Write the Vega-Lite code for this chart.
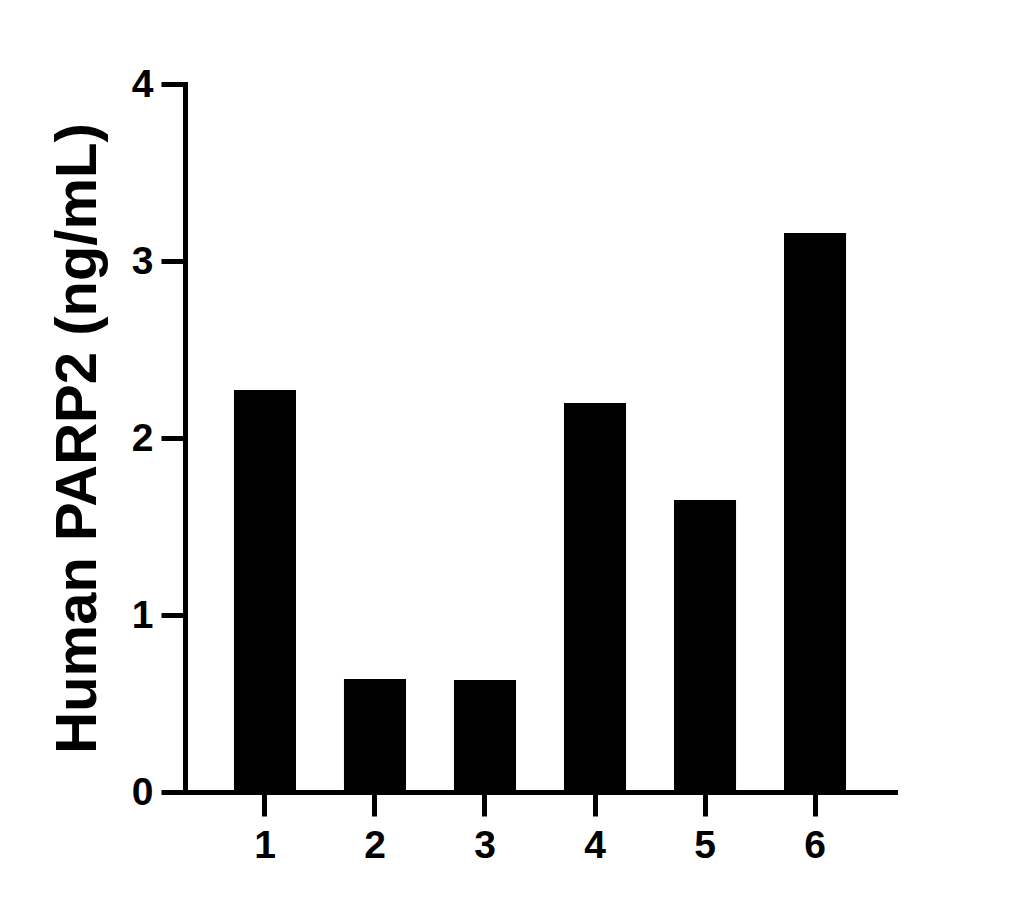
{
  "$schema": "https://vega.github.io/schema/vega-lite/v6.json",
  "description": "Human PARP2 concentration per sample",
  "autosize": "none",
  "padding": {"left": 185, "top": 84, "right": 133, "bottom": 117},
  "width": 710,
  "height": 708,
  "background": "white",
  "data": {
    "values": [
      {"Sample": "1", "PARP2": 2.271},
      {"Sample": "2", "PARP2": 0.638},
      {"Sample": "3", "PARP2": 0.633},
      {"Sample": "4", "PARP2": 2.198},
      {"Sample": "5", "PARP2": 1.650},
      {"Sample": "6", "PARP2": 3.158}
    ]
  },
  "mark": {"type": "bar", "color": "black"},
  "encoding": {
    "x": {
      "field": "Sample",
      "type": "ordinal",
      "scale": {"paddingInner": 0.436, "paddingOuter": 0.445},
      "axis": {
        "title": null,
        "labelAngle": 0,
        "labelFont": "Liberation Sans",
        "labelFontWeight": "bold",
        "labelFontSize": 39,
        "labelColor": "black",
        "labelPadding": 10,
        "tickSize": 24,
        "tickWidth": 5,
        "tickColor": "black",
        "domainWidth": 5,
        "domainColor": "black",
        "domainCap": "square"
      }
    },
    "y": {
      "field": "PARP2",
      "type": "quantitative",
      "scale": {"domain": [0, 4], "nice": false},
      "axis": {
        "title": "Human PARP2 (ng/mL)",
        "titleFont": "Liberation Sans",
        "titleFontWeight": "bold",
        "titleFontSize": 58,
        "titleColor": "black",
        "titlePadding": 24,
        "values": [0, 1, 2, 3, 4],
        "format": "d",
        "grid": false,
        "labelFont": "Liberation Sans",
        "labelFontWeight": "bold",
        "labelFontSize": 39,
        "labelColor": "black",
        "labelPadding": 8,
        "tickSize": 24,
        "tickWidth": 5,
        "tickColor": "black",
        "domainWidth": 5,
        "domainColor": "black",
        "domainCap": "square"
      }
    }
  },
  "config": {"view": {"stroke": null}}
}
